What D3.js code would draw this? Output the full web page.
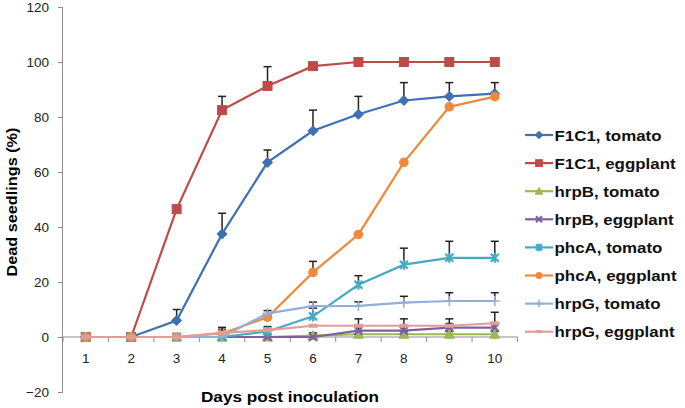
<!DOCTYPE html>
<html><head><meta charset="utf-8">
<script src="https://cdn.jsdelivr.net/npm/d3@7"></script>
<style>body{margin:0;background:#fff;}svg{display:block;font-family:"Liberation Sans",Arial,sans-serif;}</style>
</head><body><svg id="c" width="685" height="408"></svg>
<script>
const days = [1,2,3,4,5,6,7,8,9,10];
const yTicks = [-20,0,20,40,60,80,100,120];
const seriesNames = ["F1C1, tomato","F1C1, eggplant","hrpB, tomato","hrpB, eggplant","phcA, tomato","phcA, eggplant","hrpG, tomato","hrpG, eggplant"];
const f1c1Tomato = [0,0,6,37.5,63.5,75,81,86,87.5,88.5];
const f1c1TomatoErr = [0,0,4,7.5,4.5,7.5,6.5,6.5,5,4];
const f1c1Eggplant = [0,0,46.5,82.5,91.3,98.5,100,100,100,100];
const f1c1EggplantErr = [0,0,0,5,7,0,0,0,0,0];
const hrpBTomato = [0,0,0,0,0,0.5,1,1,1,1];
const hrpBTomatoErr = [0,0,0,0,0,1,1,1,1,1];
const hrpBEggplant = [0,0,0,0,0,0,2.3,2.3,3.4,3.4];
const hrpBEggplantErr = [0,0,0,0,0,0,1.5,1.5,1.5,1.5];
const phcATomato = [0,0,0,0,2,7.5,19,26.3,28.8,28.8];
const phcATomatoErr = [0,0,0,0,1.8,3,3.3,6,6,6];
const phcAEggplant = [0,0,0,1.3,7.2,23.5,37.3,63.5,83.7,87.4];
const phcAEggplantErr = [0,0,0,1.5,0,4,0,0,0,0];
const hrpGTomato = [0,0,0,0,8.6,11.2,11.3,12.5,13.1,13.1];
const hrpGTomatoErr = [0,0,0,0,1,1.5,1.5,2.3,3,3];
const hrpGEggplant = [0,0,0,1.5,2.5,4.1,4.1,4.1,4.1,5];
const hrpGEggplantErr = [0,0,0,2,0,0,2.5,2.5,2.5,4];
const seriesColors = ["#3E71B3","#BE4B48","#98B954","#7D60A0","#46AAC5","#EE8A3C","#94AEDA","#E29C99"];
const seriesMarkers = ["diamond","square","triangle","x","asterisk","circle","plus","dash"];

const values = [f1c1Tomato,f1c1Eggplant,hrpBTomato,hrpBEggplant,phcATomato,phcAEggplant,hrpGTomato,hrpGEggplant];
const errs = [f1c1TomatoErr,f1c1EggplantErr,hrpBTomatoErr,hrpBEggplantErr,phcATomatoErr,phcAEggplantErr,hrpGTomatoErr,hrpGEggplantErr];
const series = seriesNames.map((n,i)=>({name:n,color:seriesColors[i],marker:seriesMarkers[i],
  pts:days.map((d,j)=>({d, v:values[i][j], e:errs[i][j]}))}));

const svg = d3.select("#c");
const pLeft=63, pRight=517.5, pTop=7, pBottom=392;
const xb = d3.scaleBand().domain(days).range([pLeft,pRight]);
const x = d => xb(d)+xb.bandwidth()/2;
const y = d3.scaleLinear().domain([-20,120]).range([pBottom,pTop]);

function stretch(sel, f){
  sel.each(function(){ const w=this.getComputedTextLength(); d3.select(this).attr("textLength",w*f).attr("lengthAdjust","spacingAndGlyphs"); });
}

// y axis
const ya = svg.append("g").attr("transform",`translate(${pLeft},0)`)
  .call(d3.axisLeft(y).tickValues(yTicks).tickSize(5).tickPadding(9));
ya.select(".domain").attr("stroke","#8c8c8c").attr("d",`M-0.5,${pTop}V${pBottom}`);
ya.selectAll(".tick line").attr("stroke","#8c8c8c");
ya.selectAll("text").attr("font-size",13.5).attr("fill","#222").attr("font-family","Liberation Sans, Arial");

// x axis at 0
const y0 = y(0);
const xg = svg.append("g");
xg.append("line").attr("x1",pLeft).attr("x2",pRight).attr("y1",y0).attr("y2",y0).attr("stroke","#8c8c8c");
const bounds = days.map(d=>xb(d)).concat([pRight]);
xg.selectAll("line.t").data(bounds).enter().append("line").attr("class","t")
  .attr("x1",d=>d).attr("x2",d=>d).attr("y1",y0).attr("y2",y0+5).attr("stroke","#8c8c8c");
xg.selectAll("text").data(days).enter().append("text")
  .attr("x",d=>x(d)).attr("y",y0+25.5).attr("text-anchor","middle")
  .attr("font-size",13.5).attr("fill","#222").text(d=>d);

// titles
svg.append("text").attr("x",290).attr("y",402).attr("text-anchor","middle")
  .attr("font-size",14.5).attr("font-weight","bold").text("Days post inoculation")
  .attr("textLength",178).attr("lengthAdjust","spacingAndGlyphs");
svg.append("text").attr("transform",`translate(17,${202}) rotate(-90)`).attr("text-anchor","middle")
  .attr("font-size",14.5).attr("font-weight","bold").text("Dead seedlings (%)")
  .call(stretch,1.12);

function drawMarker(g, type, color, cx, cy, s){
  s = s||1;
  if(type==="diamond"){
    g.append("path").attr("d",`M${cx},${cy-5*s}L${cx+5*s},${cy}L${cx},${cy+5*s}L${cx-5*s},${cy}Z`).attr("fill",color).attr("stroke",color);
  } else if(type==="square"){
    g.append("rect").attr("x",cx-4.5*s).attr("y",cy-4.5*s).attr("width",9*s).attr("height",9*s).attr("fill",color).attr("stroke",color);
  } else if(type==="triangle"){
    g.append("path").attr("d",`M${cx},${cy-5*s}L${cx+5*s},${cy+4*s}L${cx-5*s},${cy+4*s}Z`).attr("fill",color).attr("stroke",color);
  } else if(type==="x"){
    g.append("path").attr("d",`M${cx-4*s},${cy-4*s}L${cx+4*s},${cy+4*s}M${cx-4*s},${cy+4*s}L${cx+4*s},${cy-4*s}`).attr("stroke",color).attr("stroke-width",2.2);
  } else if(type==="asterisk"){
    g.append("path").attr("d",`M${cx-4*s},${cy-4*s}L${cx+4*s},${cy+4*s}M${cx-4*s},${cy+4*s}L${cx+4*s},${cy-4*s}M${cx},${cy-5*s}V${cy+5*s}`).attr("stroke",color).attr("stroke-width",2.2);
  } else if(type==="circle"){
    g.append("circle").attr("cx",cx).attr("cy",cy).attr("r",4.8*s).attr("fill",color);
  } else if(type==="plus"){
    g.append("path").attr("d",`M${cx-5*s},${cy}H${cx+5*s}M${cx},${cy-5*s}V${cy+5*s}`).attr("stroke",color).attr("stroke-width",1.6);
  } else if(type==="dash"){
    g.append("rect").attr("x",cx-4.5*s).attr("y",cy-2*s).attr("width",9*s).attr("height",4*s).attr("fill",color);
  }
}

const line = d3.line().x(p=>x(p.d)).y(p=>y(p.v));
series.forEach(s=>{
  const g = svg.append("g");
  s.pts.filter(p=>p.e>0).forEach(p=>{
    const cx=x(p.d), yt=y(p.v+p.e);
    g.append("line").attr("x1",cx).attr("x2",cx).attr("y1",y(p.v)).attr("y2",yt).attr("stroke","#222").attr("stroke-width",1.5);
    g.append("line").attr("x1",cx-4).attr("x2",cx+4).attr("y1",yt).attr("y2",yt).attr("stroke","#222").attr("stroke-width",1.5);
  });
  g.append("path").datum(s.pts).attr("d",line).attr("fill","none").attr("stroke",s.color).attr("stroke-width",2.2);
  s.pts.forEach(p=>drawMarker(g,s.marker,s.color,x(p.d),y(p.v)));
});

// legend
const lg = svg.append("g");
series.forEach((s,i)=>{
  const ly = 135 + i*28.1;
  lg.append("line").attr("x1",525).attr("x2",553).attr("y1",ly).attr("y2",ly).attr("stroke",s.color).attr("stroke-width",2.2);
  drawMarker(lg,s.marker,s.color,539,ly,0.75);
  lg.append("text").attr("x",554.5).attr("y",ly+5.7).attr("font-size",15.5).attr("font-weight","bold").attr("fill","#111").text(s.name)
    .call(stretch,1.09);
});
</script></body></html>
